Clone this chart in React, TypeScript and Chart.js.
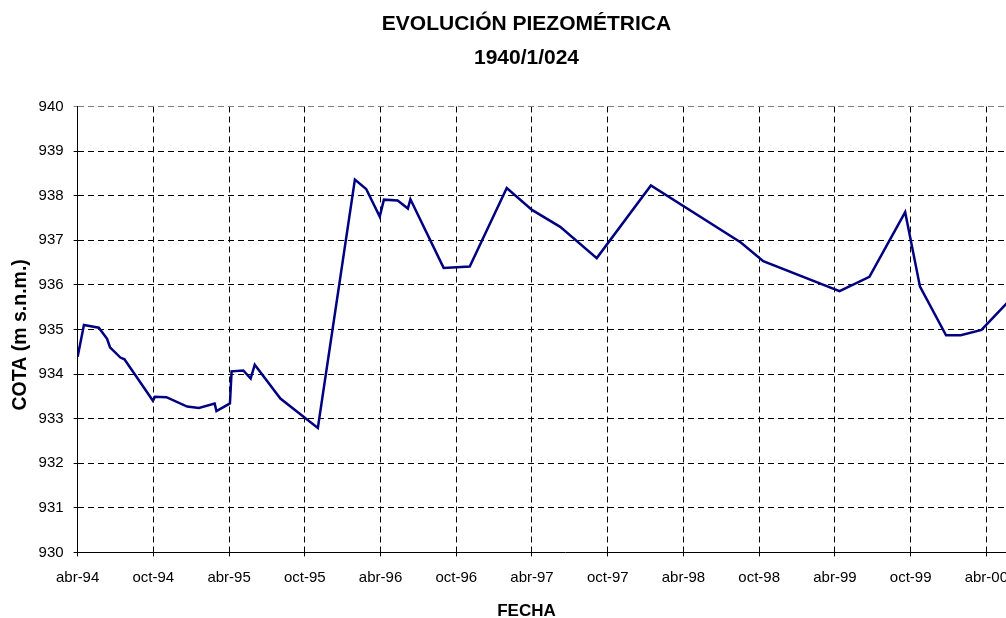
import React, { useEffect, useRef } from 'react';
import { Chart, registerables } from 'chart.js';

Chart.register(...registerables);

const dates: string[] = [
  '1994-04-01', '1994-04-16', '1994-05-22', '1994-06-11', '1994-06-18', '1994-07-13', '1994-07-23',
  '1994-09-30', '1994-10-05', '1994-11-02', '1994-12-22', '1995-01-20', '1995-02-25', '1995-03-01',
  '1995-04-03', '1995-04-07', '1995-05-05', '1995-05-23', '1995-06-02', '1995-08-03', '1995-11-02',
  '1996-01-31', '1996-02-26', '1996-03-30', '1996-04-09', '1996-05-12', '1996-06-06', '1996-06-12',
  '1996-09-01', '1996-11-03', '1997-02-01', '1997-04-01', '1997-06-08', '1997-09-05', '1998-01-14',
  '1998-08-18', '1998-10-11', '1999-04-12', '1999-06-23', '1999-09-18', '1999-10-24', '1999-12-26',
  '2000-01-31', '2000-03-20', '2000-07-01',
];

const levels: number[] = [
  934.39, 935.1, 935.04, 934.79, 934.6, 934.37, 934.33,
  933.4, 933.49, 933.48, 933.27, 933.24, 933.34, 933.17,
  933.34, 934.06, 934.08, 933.9, 934.21, 933.45, 932.79,
  938.36, 938.15, 937.53, 937.91, 937.89, 937.71, 937.92,
  936.38, 936.41, 938.17, 937.68, 937.3, 936.6, 938.23,
  936.95, 936.53, 935.86, 936.18, 937.63, 935.96, 934.87,
  934.87, 934.99, 936.0,
];

const tickMonths: number[] = [0, 6, 12, 18, 24, 30, 36, 42, 48, 54, 60, 66, 72];
const tickLabels: string[] = [
  'abr-94', 'oct-94', 'abr-95', 'oct-95', 'abr-96', 'oct-96', 'abr-97',
  'oct-97', 'abr-98', 'oct-98', 'abr-99', 'oct-99', 'abr-00',
];

const titleLines: string[] = ['EVOLUCIÓN PIEZOMÉTRICA', '1940/1/024'];
const xTitle = 'FECHA';
const yTitle = 'COTA (m s.n.m.)  ';

function monthIndex(s: string): number {
  const [y, m, d] = s.split('-').map(Number);
  const dim = new Date(y, m, 0).getDate();
  return (y - 1994) * 12 + (m - 4) + (d - 1) / dim;
}

const FONT = "'Liberation Sans', Arial, sans-serif";

export default function App() {
  const ref = useRef<HTMLCanvasElement | null>(null);

  useEffect(() => {
    if (!ref.current) return;
    const points = dates.map((d, i) => ({ x: monthIndex(d), y: levels[i] }));
    const chart = new Chart(ref.current, {
      type: 'line',
      data: {
        datasets: [
          {
            data: points,
            borderColor: '#000080',
            borderWidth: 2.5,
            pointRadius: 0,
            tension: 0,
            fill: false,
          },
        ],
      },
      options: {
        animation: false,
        responsive: false,
        devicePixelRatio: 1,
        layout: { padding: { left: 0, right: 0, top: 0, bottom: 0 } },
        plugins: {
          legend: { display: false },
          tooltip: { enabled: false },
          title: {
            display: true,
            text: titleLines,
            color: '#000',
            font: { family: FONT, size: 21, weight: 'bold', lineHeight: 1.64 },
            padding: { top: 6.5, bottom: 31.1 },
          },
          subtitle: {
            display: true,
            position: 'bottom',
            text: xTitle,
            color: '#000',
            font: { family: FONT, size: 17, weight: 'bold', lineHeight: 0.8 },
            padding: { top: 6, bottom: 0 },
          },
        },
        scales: {
          x: {
            type: 'linear',
            min: 0,
            max: 77.28,
            afterBuildTicks: (axis: any) => {
              axis.ticks = tickMonths.map((v) => ({ value: v }));
            },
            ticks: {
              autoSkip: false,
              maxRotation: 0,
              color: '#000',
              font: { family: FONT, size: 15 },
              padding: 12,
              callback: (v: any) => {
                const i = tickMonths.indexOf(Number(v));
                return i >= 0 ? tickLabels[i] : '';
              },
            },
            grid: {
              color: '#000',
              lineWidth: 1,
              tickLength: 4,
            },
            border: { display: true, color: '#000', width: 1, dash: [6, 4] },
          },
          y: {
            min: 930,
            max: 940,
            ticks: {
              stepSize: 1,
              color: '#000',
              font: { family: FONT, size: 15 },
              padding: 10,
            },
            grid: {
              color: (c: any) => (c.tick && c.tick.value === 940 ? '#808080' : '#000'),
              lineWidth: 1,
              tickLength: 4,
            },
            border: { display: true, color: '#000', width: 1, dash: [6, 4] },
            title: {
              display: true,
              text: yTitle,
              color: '#000',
              font: { family: FONT, size: 19.5, weight: 'bold', lineHeight: 0.8 },
              padding: { top: 13, bottom: 0 },
            },
          },
        },
      },
    });
    return () => chart.destroy();
  }, []);

  return (
    <div
      style={{
        position: 'fixed',
        left: 0,
        top: 0,
        width: 1006,
        height: 618,
        overflow: 'hidden',
        background: '#fff',
      }}
    >
      <canvas ref={ref} width={1053} height={618} style={{ display: 'block' }} />
    </div>
  );
}
